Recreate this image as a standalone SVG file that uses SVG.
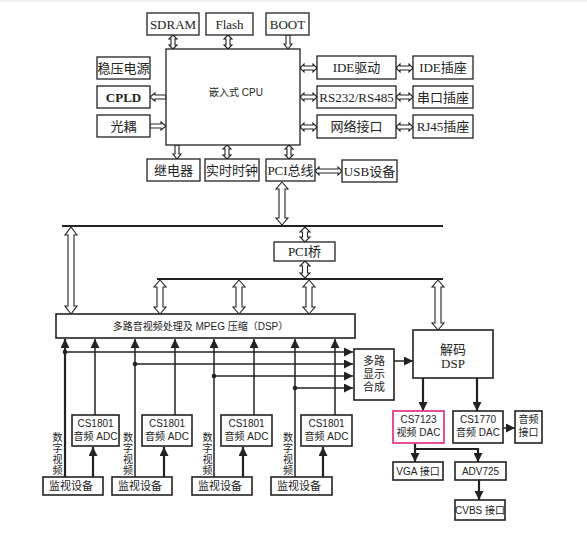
<svg xmlns="http://www.w3.org/2000/svg" width="587" height="543" viewBox="0 0 587 543">
<defs>
<style>
.b{fill:#fff;stroke:#222;stroke-width:1.3}
.bb{fill:#fff;stroke:#222;stroke-width:1.6}
.pk{fill:#fff;stroke:#e23c8c;stroke-width:1.8}
.ts{font-family:"Liberation Serif","Noto Sans CJK SC",serif;font-size:13px;fill:#222;text-anchor:middle}
.tl{font-family:"Liberation Sans","Noto Sans CJK SC",sans-serif;font-size:10px;fill:#222;text-anchor:middle}
.tm{font-family:"Liberation Sans","Noto Sans CJK SC",sans-serif;font-size:11px;fill:#222;text-anchor:middle}
.tv{font-family:"Liberation Sans","Noto Sans CJK SC",sans-serif;font-size:10px;fill:#222;text-anchor:middle}
.ha{fill:#fff;stroke:#222;stroke-width:1.1;stroke-linejoin:miter}
.ln{fill:none;stroke:#222;stroke-width:1.5}
.lt{fill:none;stroke:#222;stroke-width:2.2}
.bus{fill:none;stroke:#222;stroke-width:2.2}
.dot{fill:#222}
</style>
<marker id="ah" viewBox="0 0 10 10" refX="10" refY="5" markerWidth="9" markerHeight="9" markerUnits="userSpaceOnUse" orient="auto"><path d="M0,0 L10,5 L0,10 z" fill="#222"/></marker>
</defs>
<rect x="0" y="0" width="587" height="543" fill="#fff"/>
<rect x="0" y="0" width="587" height="2" fill="#f0f0f0"/>

<g id="connectors">
<polygon class="ha" points="173,35 177,39 175,39 175,45 177,45 173,49 169,45 171,45 171,39 169,39"/>
<polygon class="ha" points="228,35 232,39 230,39 230,45 232,45 228,49 224,45 226,45 226,39 224,39"/>
<polygon class="ha" points="286,35 290,35 290,44 292,44 288,49 284,44 286,44"/>
<polygon class="ha" points="175,145 179,145 179,154 181,154 177,159 173,154 175,154"/>
<polygon class="ha" points="227,145 231,149 229,149 229,155 231,155 227,159 223,155 225,155 225,149 223,149"/>
<polygon class="ha" points="289,145 293,149 291,149 291,155 293,155 289,159 285,155 287,155 287,149 285,149"/>
<polygon class="ha" points="166,95 155,95 155,93 150,97 155,101 155,99 166,99"/>
<polygon class="ha" points="150,124 161,124 161,122 166,126 161,130 161,128 150,128"/>
<polygon class="ha" points="300,68 304,64 304,66 313,66 313,64 317,68 313,72 313,70 304,70 304,72"/>
<polygon class="ha" points="396,68 400,64 400,66 409,66 409,64 413,68 409,72 409,70 400,70 400,72"/>
<polygon class="ha" points="300,97 304,93 304,95 313,95 313,93 317,97 313,101 313,99 304,99 304,101"/>
<polygon class="ha" points="396,97 400,93 400,95 409,95 409,93 413,97 409,101 409,99 400,99 400,101"/>
<polygon class="ha" points="300,127 304,123 304,125 313,125 313,123 317,127 313,131 313,129 304,129 304,131"/>
<polygon class="ha" points="396,127 400,123 400,125 409,125 409,123 413,127 409,131 409,129 400,129 400,131"/>
<polygon class="ha" points="315,171 319,167 319,169 338,169 338,167 342,171 338,175 338,173 319,173 319,175"/>
<line class="bus" x1="62" y1="226" x2="443" y2="226"/>
<line class="bus" x1="157" y1="279" x2="443" y2="279"/>
<polygon class="ha" points="282,182 288,189 285,189 285,218 288,218 282,225 276,218 279,218 279,189 276,189"/>
<polygon class="ha" points="305,227 310,232 307.5,232 307.5,237 310,237 305,242 300,237 302.5,237 302.5,232 300,232"/>
<polygon class="ha" points="305,261 310,266 307.5,266 307.5,273 310,273 305,278 300,273 302.5,273 302.5,266 300,266"/>
<polygon class="ha" points="71,227 77,235 74,235 74,306 77,306 71,314 65,306 68,306 68,235 65,235"/>
<polygon class="ha" points="160,280 166,287 163,287 163,307 166,307 160,314 154,307 157,307 157,287 154,287"/>
<polygon class="ha" points="239,280 245,287 242,287 242,307 245,307 239,314 233,307 236,307 236,287 233,287"/>
<polygon class="ha" points="309,280 315,287 312,287 312,307 315,307 309,314 303,307 306,307 306,287 303,287"/>
<polygon class="ha" points="438,280 444,287 441,287 441,323 444,323 438,330 432,323 435,323 435,287 432,287"/>
<path class="lt" d="M65,477 V339" marker-end="url(#ah)"/>
<path class="ln" d="M135,477 V339" marker-end="url(#ah)"/>
<path class="ln" d="M214,477 V339" marker-end="url(#ah)"/>
<path class="ln" d="M295,477 V339" marker-end="url(#ah)"/>
<path class="ln" d="M95,415 V339" marker-end="url(#ah)"/>
<path class="ln" d="M175,415 V339" marker-end="url(#ah)"/>
<path class="ln" d="M254,415 V339" marker-end="url(#ah)"/>
<path class="ln" d="M335,415 V339" marker-end="url(#ah)"/>
<path class="lt" d="M93,477 V447" marker-end="url(#ah)"/>
<path class="lt" d="M164,477 V447" marker-end="url(#ah)"/>
<path class="lt" d="M243,477 V447" marker-end="url(#ah)"/>
<path class="lt" d="M323,477 V447" marker-end="url(#ah)"/>
<path class="ln" d="M65,352 H353" marker-end="url(#ah)"/>
<path class="ln" d="M135,364 H353" marker-end="url(#ah)"/>
<path class="ln" d="M214,376 H353" marker-end="url(#ah)"/>
<path class="ln" d="M295,388 H353" marker-end="url(#ah)"/>
<circle class="dot" cx="65" cy="352" r="2.3"/>
<circle class="dot" cx="135" cy="364" r="2.3"/>
<circle class="dot" cx="214" cy="376" r="2.3"/>
<circle class="dot" cx="295" cy="388" r="2.3"/>
<path class="ln" d="M394,361 H413" marker-end="url(#ah)"/>
<path class="lt" d="M423,378 V411" marker-end="url(#ah)"/>
<path class="lt" d="M477,378 V411" marker-end="url(#ah)"/>
<path class="ln" d="M503,428 H515" marker-end="url(#ah)"/>
<path class="lt" d="M415,443 V462" marker-end="url(#ah)"/>
<path class="lt" d="M415,449 H478 V462" marker-end="url(#ah)"/>
<path class="lt" d="M479,480 V500" marker-end="url(#ah)"/>
</g>

<g id="sdram"><rect class="b" x="147" y="13" width="52" height="22"/><text class="ts" x="173" y="28.5">SDRAM</text></g>
<g id="flash"><rect class="b" x="206" y="13" width="47" height="22"/><text class="ts" x="229.5" y="28.5">Flash</text></g>
<g id="boot"><rect class="b" x="266" y="13" width="43" height="22"/><text class="ts" x="287.5" y="28.5">BOOT</text></g>
<g id="cpu"><rect class="b" x="166" y="49" width="134" height="96"/><text class="tl" x="236" y="96">嵌入式 CPU</text></g>
<g id="power"><rect class="b" x="97" y="57" width="53" height="22"/><text class="ts" x="123.5" y="72.5">稳压电源</text></g>
<g id="cpld"><rect class="b" x="97" y="86" width="53" height="22"/><text class="ts" x="123.5" y="101.5" font-weight="bold">CPLD</text></g>
<g id="optocoupler"><rect class="b" x="97" y="115" width="53" height="22"/><text class="ts" x="123.5" y="130.5">光耦</text></g>
<g id="ide-drv"><rect class="b" x="317" y="56" width="79" height="23"/><text class="ts" x="356.5" y="72">IDE驱动</text></g>
<g id="ide-sock"><rect class="b" x="413" y="56" width="60" height="23"/><text class="ts" x="443" y="72">IDE插座</text></g>
<g id="rs232"><rect class="b" x="317" y="86" width="79" height="22"/><text class="ts" x="356.5" y="101.5">RS232/RS485</text></g>
<g id="serial-sock"><rect class="b" x="413" y="86" width="60" height="22"/><text class="ts" x="443" y="101.5">串口插座</text></g>
<g id="net"><rect class="b" x="317" y="115" width="79" height="23"/><text class="ts" x="356.5" y="131">网络接口</text></g>
<g id="rj45"><rect class="b" x="413" y="115" width="60" height="23"/><text class="ts" x="443" y="131">RJ45插座</text></g>
<g id="relay"><rect class="b" x="147" y="159" width="53" height="22"/><text class="ts" x="173.5" y="174.5">继电器</text></g>
<g id="rtc"><rect class="b" x="205" y="159" width="54" height="22"/><text class="ts" x="232" y="174.5">实时时钟</text></g>
<g id="pci-bus"><rect class="b" x="266" y="159" width="49" height="22"/><text class="ts" x="290.5" y="174.5">PCI总线</text></g>
<g id="usb"><rect class="b" x="342" y="160" width="55" height="22"/><text class="ts" x="369.5" y="175.5">USB设备</text></g>
<g id="pci-bridge"><rect class="b" x="274" y="242" width="61" height="19"/><text class="ts" x="304.5" y="256" font-size="12">PCI桥</text></g>

<g id="dsp-main"><rect class="bb" x="56" y="314" width="299" height="24"/><text class="tl" x="200.5" y="330">多路音视频处理及 MPEG 压缩（DSP）</text></g>
<g id="display-mux"><rect class="bb" x="354" y="349" width="40" height="51"/><text class="tm" x="374" y="365">多路</text><text class="tm" x="374" y="378">显示</text><text class="tm" x="374" y="391">合成</text></g>
<g id="decode-dsp"><rect class="bb" x="413" y="330" width="80" height="48"/><text class="ts" x="453" y="354">解码</text><text class="ts" x="453" y="368">DSP</text></g>

<g id="adc1"><rect class="bb" x="72" y="415" width="47" height="31"/><text class="tl" x="95.5" y="427">CS1801</text><text class="tl" x="95.5" y="440">音频 ADC</text></g>
<g id="adc2"><rect class="bb" x="142" y="415" width="50" height="31"/><text class="tl" x="167" y="427">CS1801</text><text class="tl" x="167" y="440">音频 ADC</text></g>
<g id="adc3"><rect class="bb" x="221" y="415" width="51" height="31"/><text class="tl" x="246.5" y="427">CS1801</text><text class="tl" x="246.5" y="440">音频 ADC</text></g>
<g id="adc4"><rect class="bb" x="301" y="415" width="51" height="31"/><text class="tl" x="326.5" y="427">CS1801</text><text class="tl" x="326.5" y="440">音频 ADC</text></g>

<g id="mon1"><rect class="bb" x="43" y="477" width="60" height="18"/><text class="tm" x="71" y="490">监视设备</text></g>
<g id="mon2"><rect class="bb" x="112" y="477" width="60" height="18"/><text class="tm" x="140" y="490">监视设备</text></g>
<g id="mon3"><rect class="bb" x="192" y="477" width="60" height="18"/><text class="tm" x="220" y="490">监视设备</text></g>
<g id="mon4"><rect class="bb" x="271" y="477" width="61" height="18"/><text class="tm" x="299" y="490">监视设备</text></g>

<g id="video-labels">
<text class="tv" x="57.5" y="441">数</text><text class="tv" x="57.5" y="452">字</text><text class="tv" x="57.5" y="463">视</text><text class="tv" x="57.5" y="474">频</text>
<text class="tv" x="128" y="441">数</text><text class="tv" x="128" y="452">字</text><text class="tv" x="128" y="463">视</text><text class="tv" x="128" y="474">频</text>
<text class="tv" x="207.5" y="441">数</text><text class="tv" x="207.5" y="452">字</text><text class="tv" x="207.5" y="463">视</text><text class="tv" x="207.5" y="474">频</text>
<text class="tv" x="288" y="441">数</text><text class="tv" x="288" y="452">字</text><text class="tv" x="288" y="463">视</text><text class="tv" x="288" y="474">频</text>
</g>

<g id="cs7123"><rect class="pk" x="393" y="411" width="51" height="32"/><text class="tl" x="418.5" y="423">CS7123</text><text class="tl" x="418.5" y="436">视频 DAC</text></g>
<g id="cs1770"><rect class="bb" x="453" y="411" width="50" height="32"/><text class="tl" x="478" y="423">CS1770</text><text class="tl" x="478" y="436">音频 DAC</text></g>
<g id="audio-port"><rect class="bb" x="515" y="411" width="27" height="32"/><text class="tl" x="528.5" y="423">音频</text><text class="tl" x="528.5" y="436">接口</text></g>
<g id="vga"><rect class="bb" x="393" y="462" width="50" height="18"/><text class="tl" x="418" y="475">VGA 接口</text></g>
<g id="adv725"><rect class="bb" x="455" y="462" width="51" height="18"/><text class="tl" x="480.5" y="475">ADV725</text></g>
<g id="cvbs"><rect class="bb" x="455" y="500" width="50" height="20"/><text class="tl" x="480" y="514">CVBS 接口</text></g>
</svg>
